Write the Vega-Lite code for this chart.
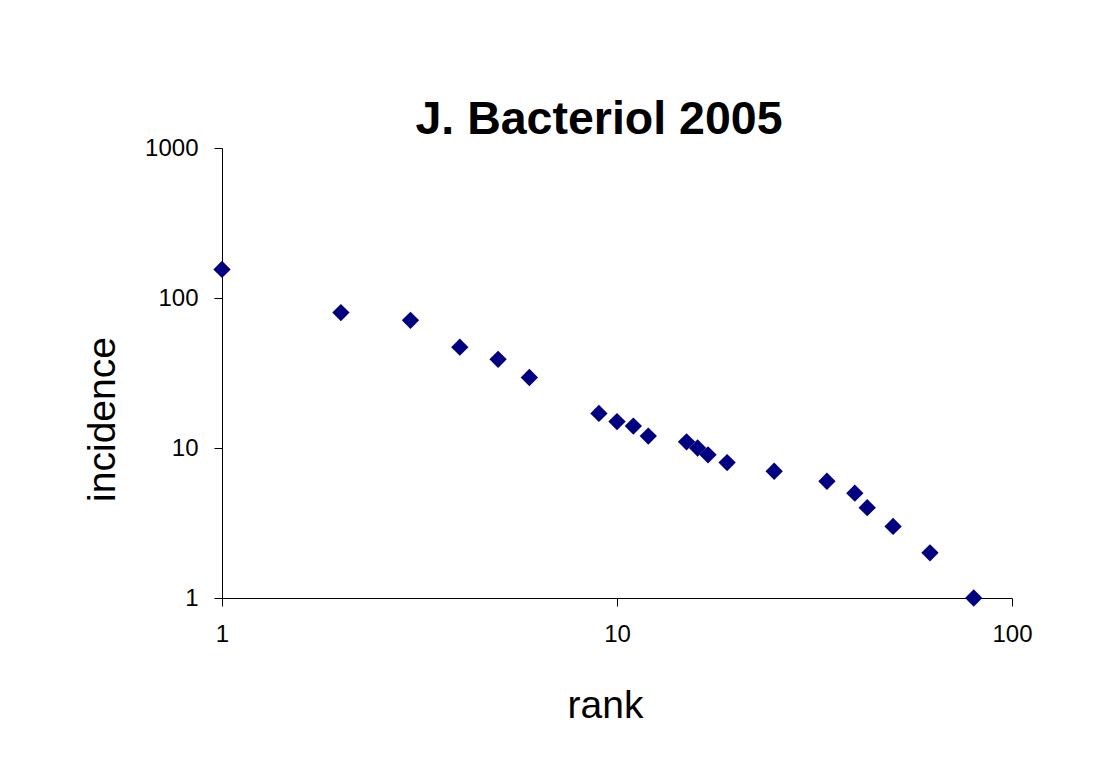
{
  "$schema": "https://vega.github.io/schema/vega-lite/v6.json",
  "width": 790,
  "height": 450,
  "autosize": {"type": "none"},
  "padding": {"left": 222, "top": 148, "right": 104, "bottom": 161},
  "background": "white",
  "title": {
    "text": "J. Bacteriol 2005",
    "font": "Liberation Sans",
    "fontSize": 46.5,
    "fontWeight": "bold",
    "color": "black",
    "anchor": "middle",
    "baseline": "alphabetic",
    "offset": -44,
    "dx": -18
  },
  "config": {
    "view": {"stroke": null},
    "axis": {
      "labelFont": "Liberation Sans",
      "labelFontSize": 24,
      "labelColor": "black",
      "titleFont": "Liberation Sans",
      "titleFontSize": 39,
      "titleFontWeight": "normal",
      "titleColor": "black",
      "domainColor": "black",
      "tickColor": "black",
      "tickSize": 8,
      "labelPadding": 16,
      "grid": false
    }
  },
  "data": {
    "values": [
      {"rank": 1, "incidence": 155},
      {"rank": 2, "incidence": 80},
      {"rank": 3, "incidence": 71},
      {"rank": 4, "incidence": 47},
      {"rank": 5, "incidence": 39},
      {"rank": 6, "incidence": 29.5},
      {"rank": 9, "incidence": 17},
      {"rank": 10, "incidence": 15},
      {"rank": 11, "incidence": 14},
      {"rank": 12, "incidence": 12},
      {"rank": 15, "incidence": 11},
      {"rank": 16, "incidence": 10},
      {"rank": 17, "incidence": 9},
      {"rank": 19, "incidence": 8},
      {"rank": 25, "incidence": 7},
      {"rank": 34, "incidence": 6},
      {"rank": 40, "incidence": 5},
      {"rank": 43, "incidence": 4},
      {"rank": 50, "incidence": 3},
      {"rank": 62, "incidence": 2},
      {"rank": 80, "incidence": 1}
    ]
  },
  "mark": {"type": "point", "shape": "diamond", "filled": true, "color": "#000080", "opacity": 1, "size": 300, "clip": false},
  "encoding": {
    "x": {
      "field": "rank",
      "type": "quantitative",
      "scale": {"type": "log", "domain": [1, 100], "nice": false},
      "axis": {
        "values": [1, 10, 100],
        "format": "d",
        "title": "rank",
        "titleBaseline": "alphabetic",
        "titleAnchor": null,
        "titleAlign": "center",
        "titleX": 383,
        "titleY": 119,
        "labelFlush": false,
        "labelOverlap": false
      }
    },
    "y": {
      "field": "incidence",
      "type": "quantitative",
      "scale": {"type": "log", "domain": [1, 1000], "nice": false},
      "axis": {
        "values": [1, 10, 100, 1000],
        "format": "d",
        "title": "incidence",
        "titleBaseline": "alphabetic",
        "titleAlign": "center",
        "titleAngle": -90,
        "titleX": -108,
        "titleY": 271,
        "labelFlush": false,
        "labelOverlap": false
      }
    }
  }
}
